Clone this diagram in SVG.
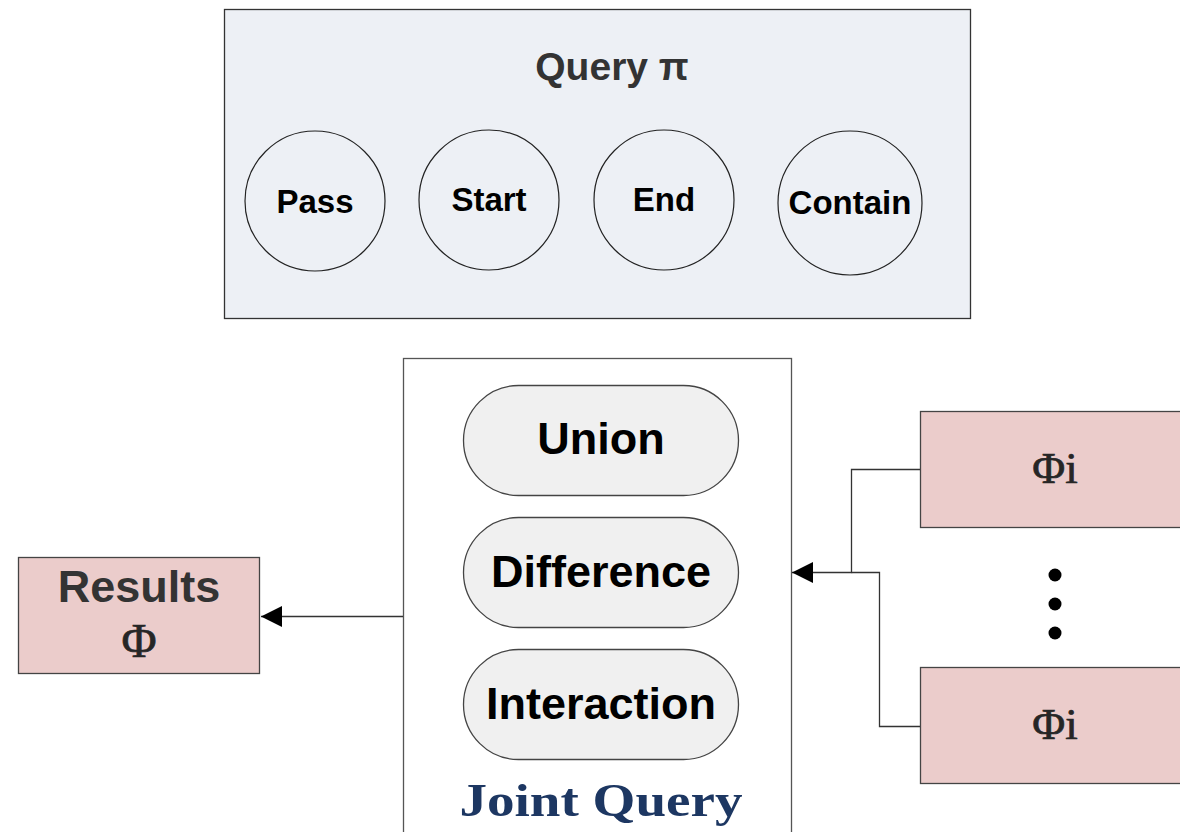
<svg xmlns="http://www.w3.org/2000/svg" width="1180" height="832" viewBox="0 0 1180 832">
<style>
.panel{fill:#edf0f5;stroke:#333;stroke-width:1.3}
.circ{fill:none;stroke:#222;stroke-width:1.2}
.ctext{font-family:"Liberation Sans",Arial,sans-serif;font-weight:bold;font-size:33px;fill:#000;text-anchor:middle}
.pill{fill:#f0f0f0;stroke:#444;stroke-width:1.3}
.ptext{font-family:"Liberation Sans",Arial,sans-serif;font-weight:bold;font-size:45px;fill:#000;text-anchor:middle}
.pink{fill:#ebcccb;stroke:#444;stroke-width:1.3}
.serif{font-family:"Liberation Serif","Times New Roman",serif;fill:#262626;stroke:#262626;stroke-width:0.7;text-anchor:middle}
.conn{fill:none;stroke:#333;stroke-width:1.3}
</style>
<defs>
<marker id="arr" viewBox="0 0 21 21" refX="21" refY="10.5" markerWidth="21" markerHeight="21" orient="auto" markerUnits="userSpaceOnUse">
<path d="M0,0 L21,10.5 L0,21 z" fill="#000"/>
</marker>
</defs>
<rect width="1180" height="832" fill="#fff"/>

<g id="query">
<rect class="panel" x="224.5" y="9.5" width="746" height="309"/>
<text x="612" y="80" font-family="'Liberation Sans',Arial,sans-serif" font-weight="bold" font-size="39" fill="#333" text-anchor="middle">Query π</text>
</g>
<g id="pass"><ellipse class="circ" cx="315" cy="201" rx="70" ry="70"/><text class="ctext" x="315" y="213">Pass</text></g>
<g id="start"><ellipse class="circ" cx="489" cy="200" rx="70" ry="70"/><text class="ctext" x="489" y="211">Start</text></g>
<g id="end"><ellipse class="circ" cx="664" cy="200" rx="70" ry="70"/><text class="ctext" x="664" y="211">End</text></g>
<g id="contain"><ellipse class="circ" cx="850" cy="203" rx="72" ry="72"/><text class="ctext" x="850" y="214">Contain</text></g>

<g id="joint">
<rect x="403.5" y="358.5" width="388" height="480" fill="#fff" stroke="#555" stroke-width="1.3"/>
<text x="601" y="816" font-family="'Liberation Serif','Times New Roman',serif" font-weight="bold" font-size="46" fill="#1d3762" text-anchor="middle" textLength="283" lengthAdjust="spacingAndGlyphs">Joint Query</text>
</g>
<g id="union"><rect class="pill" x="463.5" y="385.5" width="275" height="110" rx="55" ry="55"/><text class="ptext" x="601" y="454">Union</text></g>
<g id="difference"><rect class="pill" x="463.5" y="517.5" width="275" height="110" rx="55" ry="55"/><text class="ptext" x="601" y="587">Difference</text></g>
<g id="interaction"><rect class="pill" x="463.5" y="649.5" width="275" height="110" rx="55" ry="55"/><text class="ptext" x="601" y="719">Interaction</text></g>

<g id="results">
<rect class="pink" x="18.5" y="557.5" width="241" height="116"/>
<text x="139" y="602" font-family="'Liberation Sans',Arial,sans-serif" font-weight="bold" font-size="45" fill="#333" text-anchor="middle">Results</text>
<text class="serif" x="139" y="657" font-size="48">Φ</text>
</g>
<g id="phi1">
<rect class="pink" x="920.5" y="411.5" width="270" height="116"/>
<text class="serif" x="1055" y="483" font-size="45">Φi</text>
</g>
<g id="dots">
<circle cx="1055" cy="575" r="6.5" fill="#000"/>
<circle cx="1055" cy="604" r="6.5" fill="#000"/>
<circle cx="1055" cy="633" r="6.5" fill="#000"/>
</g>
<g id="phi2">
<rect class="pink" x="920.5" y="667.5" width="270" height="116"/>
<text class="serif" x="1055" y="739" font-size="45">Φi</text>
</g>

<g id="connectors">
<path class="conn" d="M920,469.5 H851.5 V572.5 H792" marker-end="url(#arr)"/>
<path class="conn" d="M920,726.5 H879.5 V572.5 H851.5"/>
<path class="conn" d="M403,616.5 H261" marker-end="url(#arr)"/>
</g>
</svg>
